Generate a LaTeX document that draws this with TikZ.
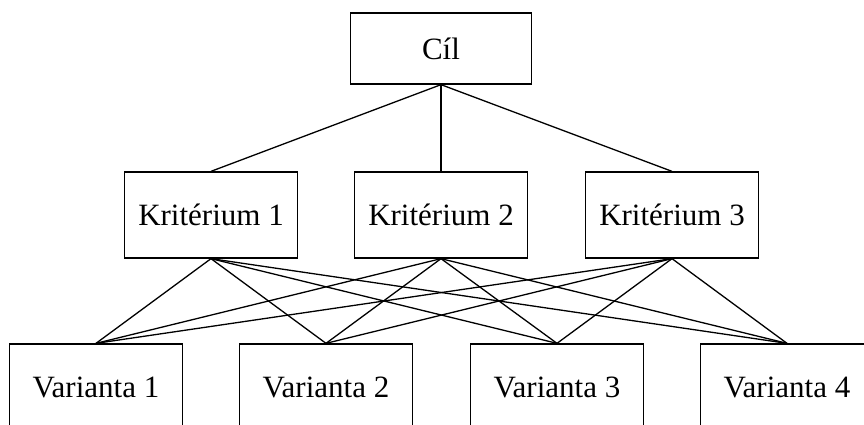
\documentclass[tikz,border=0pt]{standalone}
\usepackage{fontspec}
\setmainfont{Liberation Serif}
\usepackage{tikz}

\begin{document}
\begin{tikzpicture}[x=1pt,y=-1pt]
  \tikzset{box/.style = {shape=rectangle,draw,line width=1.3pt,inner sep=0pt,minimum width=173pt,minimum height=86pt,font=\fontsize{31}{37}\selectfont}}
  \tikzset{edge/.style = {line width=1.3pt}}

  \clip (0,0) rectangle (864,425);

	\node[box,minimum width=181pt,minimum height=71pt] (C) at (441,48.5) {Cíl};

	\node[box] (K1) at (211,215) {Kritérium 1};
	\node[box] (K2) at (441,215) {Kritérium 2};
	\node[box] (K3) at (672,215) {Kritérium 3};

	\node[box] (V1) at (96,387) {Varianta 1};
	\node[box] (V2) at (326,387) {Varianta 2};
	\node[box] (V3) at (557,387) {Varianta 3};
	\node[box] (V4) at (787,387) {Varianta 4};

	\foreach \to in {K1, K2, K3}
	  \draw[edge] (C.south) -- (\to.north);
	\foreach \from in {K1, K2, K3}
	  \foreach \to in {V1, V2, V3, V4}
	    \draw[edge] (\from.south) -- (\to.north);
\end{tikzpicture}
\end{document}
